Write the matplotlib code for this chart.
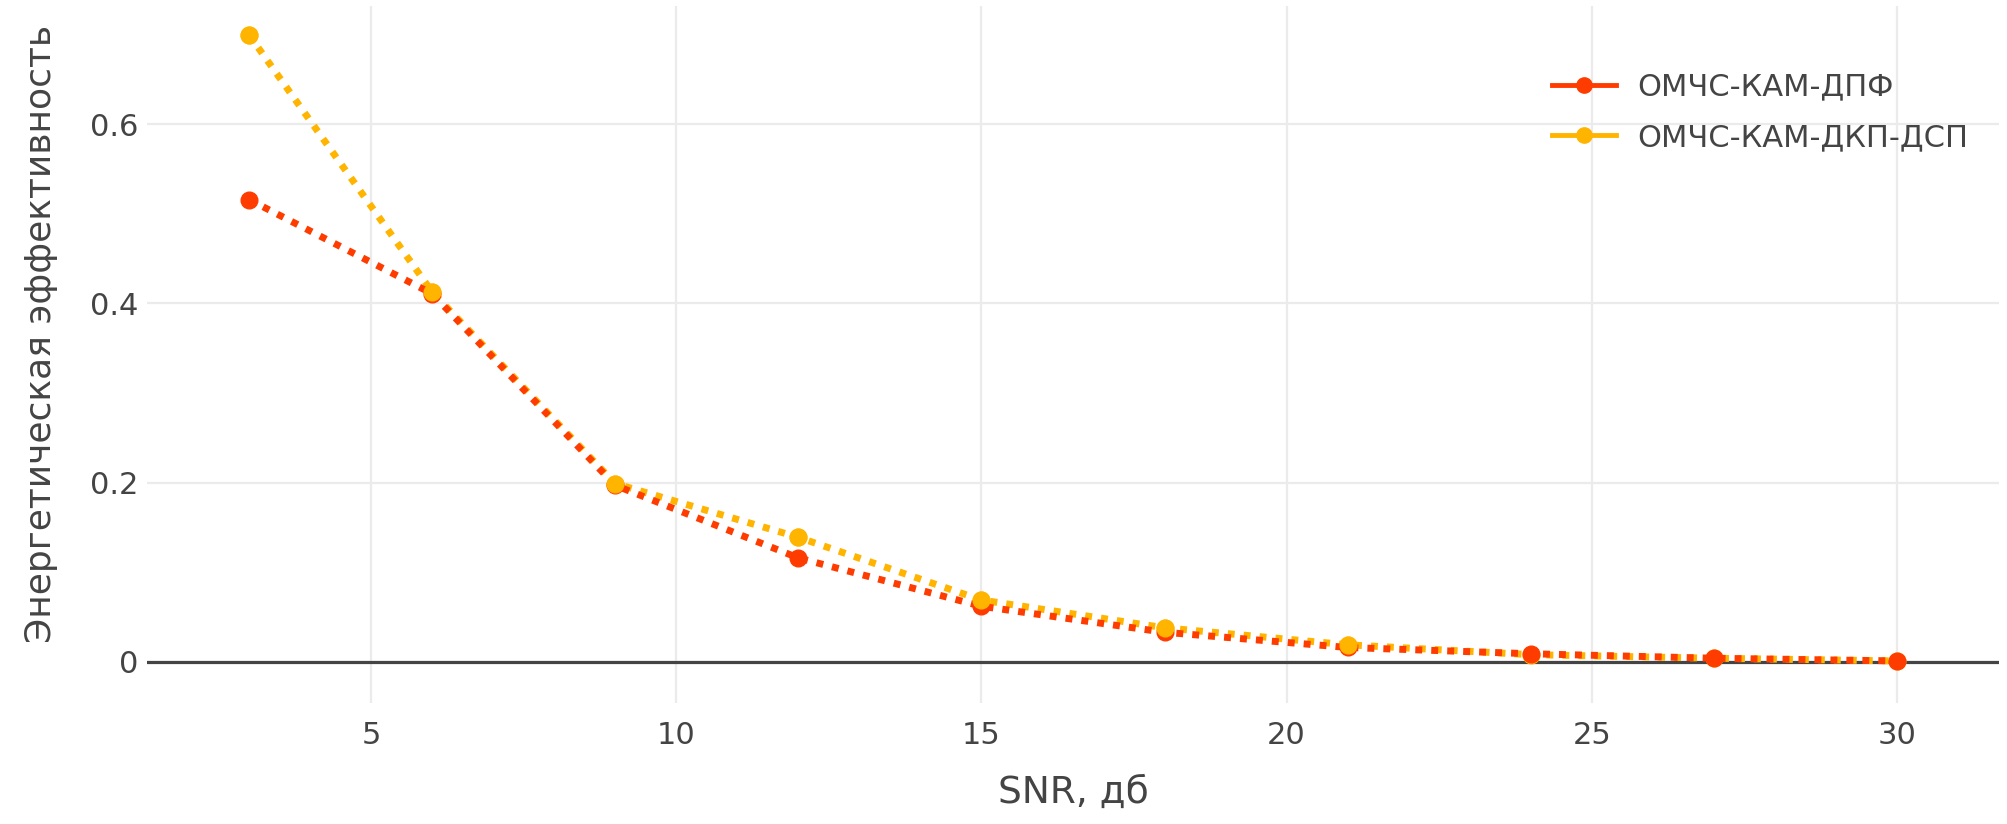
import matplotlib.pyplot as plt
from matplotlib.lines import Line2D

snr = [3, 6, 9, 12, 15, 18, 21, 24, 27, 30]
dft = [0.516, 0.411, 0.197, 0.116, 0.062, 0.033, 0.016, 0.009, 0.004, 0.001]
dct_dst = [0.700, 0.413, 0.199, 0.139, 0.069, 0.038, 0.019, 0.008, 0.004, 0.001]
labels = ["ОМЧС-КАМ-ДПФ", "ОМЧС-КАМ-ДКП-ДСП"]
xticks = [5, 10, 15, 20, 25, 30]
yticks = [0, 0.2, 0.4, 0.6]

red = "#ff3c00"
orange = "#ffb400"
txt = "#444444"

plt.rcParams["font.family"] = ["DejaVu Sans"]
fig = plt.figure(figsize=(20.08, 8.24), dpi=100)
ax = fig.add_axes([0.0732, 0.1468, 0.9223, 0.8459])

line_kw = dict(linestyle=(0, (1, 1.3)), linewidth=5, marker="o", markersize=12,
               dash_capstyle="butt")
ax.plot(snr, dct_dst, color=orange, zorder=3, **line_kw)
ax.plot(snr, dft, color=red, zorder=4, **line_kw)
# orange markers sit on top for the first points
ax.plot(snr, dct_dst, color=orange, linestyle="none", marker="o", markersize=12,
        markevery=[0, 1, 2, 3, 4, 5, 6], zorder=5)

ax.axhline(0, color=txt, linewidth=2.3, zorder=2)
ax.set_xlim(1.33, 31.67)
ax.set_ylim(-0.046, 0.732)
ax.set_xticks(xticks)
ax.set_xticklabels([str(t) for t in xticks])
ax.set_yticks(yticks)
ax.set_yticklabels(["0", "0.2", "0.4", "0.6"])
ax.grid(True, color="#ebebeb", linewidth=1.6, zorder=0)
ax.set_axisbelow(True)
for s in ax.spines.values():
    s.set_visible(False)
ax.tick_params(length=0, labelsize=22, colors=txt)
ax.tick_params(axis="x", pad=13)
ax.tick_params(axis="y", pad=6)

ax.set_xlabel("SNR, дб", fontsize=27, color=txt, labelpad=18)
ax.set_ylabel("Энергетическая эффективность", fontsize=26, color=txt)
ax.yaxis.set_label_coords(-0.048, 0.53)

handles = [Line2D([], [], color=red, linewidth=3.5, marker="o", markersize=11),
           Line2D([], [], color=orange, linewidth=3.5, marker="o", markersize=11)]
leg = fig.legend(handles, labels, loc="upper left", bbox_to_anchor=(0.773, 0.912),
                 frameon=False, fontsize=22, handlelength=2.1, handletextpad=0.7,
                 borderpad=0, borderaxespad=0, labelspacing=0.7)
for t in leg.get_texts():
    t.set_color(txt)

fig.savefig("out.png", dpi=100)
